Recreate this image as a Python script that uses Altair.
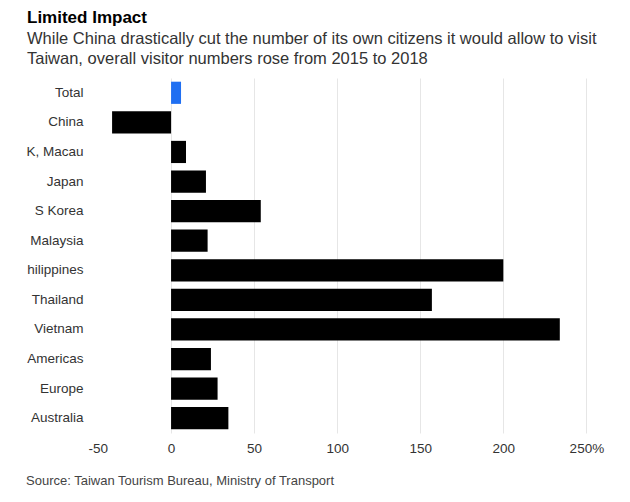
import altair as alt
import pandas as pd

regions = ["Total", "China", "K, Macau", "Japan", "S Korea", "Malaysia", "hilippines",
           "Thailand", "Vietnam", "Americas", "Europe", "Australia"]
changes = [6, -35.5, 9, 21, 54, 22, 200, 157, 234, 24, 28, 34.5]
highlight = ["total", "other", "other", "other", "other", "other", "other",
             "other", "other", "other", "other", "other"]
tick_values = [-50, 0, 50, 100, 150, 200, 250]

df = pd.DataFrame({"region": regions, "change": changes, "kind": highlight})

W, H = 515, 355
FONT = "Liberation Sans"

bars = alt.Chart(df).mark_bar().encode(
    y=alt.Y("region:N", sort=regions, title=None,
            scale=alt.Scale(paddingInner=0.25, paddingOuter=0.125),
            axis=alt.Axis(ticks=False, domain=False, labelPadding=5, labelFontSize=13.5,
                          labelColor="#333333", labelFont=FONT, grid=False, labelLimit=200)),
    x=alt.X("change:Q", title=None,
            scale=alt.Scale(domain=[-50, 260], nice=False),
            axis=alt.Axis(values=tick_values, ticks=False, domain=False, labelPadding=8,
                          labelFontSize=13.5, labelColor="#333333", labelFont=FONT,
                          labelExpr="datum.value == 250 ? '250%' : toString(datum.value)",
                          gridColor=alt.condition("datum.value < 0", alt.value("transparent"), alt.value("#e6e6e6")),
                          gridWidth=1)),
    color=alt.Color("kind:N", scale=alt.Scale(domain=["total", "other"], range=["#1f6ff2", "#000000"]), legend=None),
)

source = alt.Chart(pd.DataFrame({"t": ["Source: Taiwan Tourism Bureau, Ministry of Transport"]})).mark_text(
    align="left", baseline="alphabetic", fontSize=13, font=FONT, color="#444444"
).encode(x=alt.value(-62), y=alt.value(H + 52), text="t:N")

chart = alt.layer(bars, source).properties(
    width=W, height=H,
    autosize=alt.AutoSizeParams(type="none"),
    padding={"left": 88, "top": 78, "right": 27, "bottom": 69},
    title=alt.TitleParams(
        "Limited Impact",
        subtitle=["While China drastically cut the number of its own citizens it would allow to visit",
                  "Taiwan, overall visitor numbers rose from 2015 to 2018"],
        anchor="start", frame="group", dx=-61, font=FONT, fontSize=17, fontWeight="bold", color="#000000",
        subtitleFont=FONT, subtitleFontSize=16.5, subtitleColor="#333333", subtitleLineHeight=20,
        subtitlePadding=4, offset=10,
    ),
).configure_view(stroke=None)

chart.save("out.html", embed_options={"renderer": "svg", "actions": False})
